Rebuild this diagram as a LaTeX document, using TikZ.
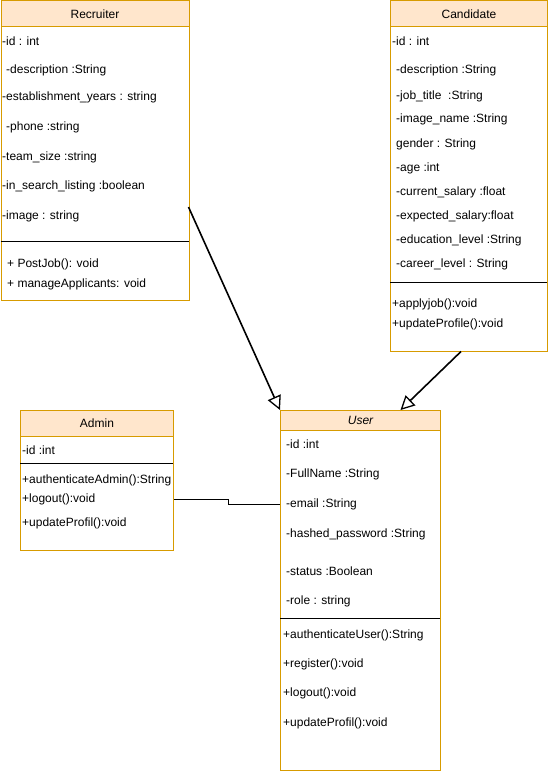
\documentclass[tikz,border=0pt]{standalone}
\usepackage{fontspec}
\setmainfont{Liberation Sans}
\usetikzlibrary{arrows.meta}
\definecolor{headfill}{HTML}{FFE6CC}
\definecolor{headline}{HTML}{D79B00}
\tikzset{classbox/.style={draw=headline,line width=1pt,anchor=north west,inner sep=0}}
\tikzset{classhead/.style={draw=headline,fill=headfill,line width=1pt,anchor=north west,inner sep=0,font=\fontsize{12}{14}\selectfont}}
\tikzset{member/.style={anchor=west,inner sep=0,font=\fontsize{12}{14}\selectfont}}
\tikzset{divider/.style={line width=1pt}}
\tikzset{inherit/.style={line width=1.6pt,-{Triangle[open,length=14pt,width=14pt,line width=1.3pt]}}}
\begin{document}
\begin{tikzpicture}[x=1pt,y=-1pt]
            \useasboundingbox (0,0) rectangle (548,776);
            % Recruiter class
            \node[classbox,minimum width=188pt,minimum height=299pt] (recruiter) at (0.5,0.5) {};
            \node[classhead,minimum width=188pt,minimum height=26pt] (recruiterhead) at (0.5,0.5) {Recruiter};
            \draw[divider] (0.5,241) -- (188.5,241);
            \node[member] (r1) at (2,41) {-id : int};
            \node[member] (r2) at (6,70) {-description :String};
            \node[member] (r3) at (2,97) {-establishment\_years : string};
            \node[member] (r4) at (6,127) {-phone :string};
            \node[member] (r5) at (2,157) {-team\_size :string};
            \node[member] (r6) at (2,186) {-in\_search\_listing :boolean};
            \node[member] (r7) at (2,216) {-image : string};
            \node[member] (r8) at (7,264) {+ PostJob(): void};
            \node[member] (r9) at (7,284) {+ manageApplicants: void};

            % Candidate class
            \node[classbox,minimum width=157pt,minimum height=350pt] (candidate) at (390,0.5) {};
            \node[classhead,minimum width=157pt,minimum height=26pt] (candidatehead) at (390,0.5) {Candidate};
            \draw[divider] (390,282) -- (547,282);
            \node[member] (c1) at (392,41) {-id : int};
            \node[member] (c2) at (396,70) {-description :String};
            \node[member] (c3) at (396,96) {-job\_title\ \ :String};
            \node[member] (c4) at (396,119) {-image\_name :String};
            \node[member] (c5) at (396,144) {gender : String};
            \node[member] (c6) at (396,168) {-age :int};
            \node[member] (c7) at (396,192) {-current\_salary :float};
            \node[member] (c8) at (396,216) {-expected\_salary:float};
            \node[member] (c9) at (396,240) {-education\_level :String};
            \node[member] (c10) at (396,264) {-career\_level : String};
            \node[member] (c11) at (392,304) {+applyjob():void};
            \node[member] (c12) at (392,324) {+updateProfile():void};

            % Admin class
            \node[classbox,minimum width=153pt,minimum height=140pt] (admin) at (20,410) {};
            \node[classhead,minimum width=153pt,minimum height=26pt] (adminhead) at (20,410) {Admin};
            \draw[divider] (20,463) -- (173,463);
            \node[member] (a1) at (22,450) {-id :int};
            \node[member] (a2) at (22,480) {+authenticateAdmin():String};
            \node[member] (a3) at (22,499) {+logout():void};
            \node[member] (a4) at (22,523) {+updateProfil():void};

            % User class
            \node[classbox,minimum width=160pt,minimum height=360pt] (user) at (280,410) {};
            \node[classhead,minimum width=160pt,minimum height=20pt,font=\fontsize{12}{14}\selectfont\itshape] (userhead) at (280,410) {User};
            \draw[divider] (280,618) -- (440,618);
            \node[member] (u1) at (286,444) {-id :int};
            \node[member] (u2) at (286,474) {-FullName :String};
            \node[member] (u3) at (286,504) {-email :String};
            \node[member] (u4) at (286,534) {-hashed\_password :String};
            \node[member] (u5) at (286,571) {-status :Boolean};
            \node[member] (u6) at (286,601) {-role : string};
            \node[member] (u7) at (283,635) {+authenticateUser():String};
            \node[member] (u8) at (283,664) {+register():void};
            \node[member] (u9) at (283,693) {+logout():void};
            \node[member] (u10) at (283,723) {+updateProfil():void};

            % connectors
            \coordinate (recout) at (188.5,207);
            \draw[inherit] (recout) -- (user.north west);
            \draw[inherit] ([xshift=-8pt]candidate.south) -- ([xshift=40pt]user.north);
            \draw[line width=1pt] (admin.east |- a3) -- ++(54,0) |- (user.west |- u3);
        \end{tikzpicture}
\end{document}
